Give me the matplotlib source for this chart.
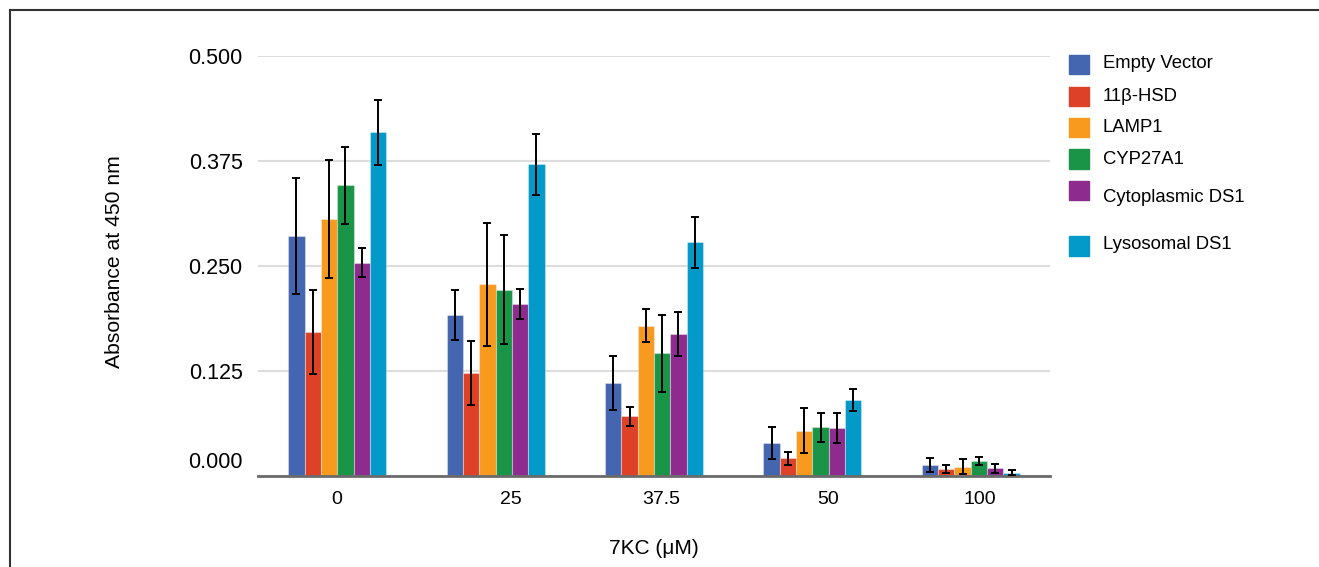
import matplotlib.pyplot as plt
from matplotlib.patches import Rectangle
from matplotlib.lines import Line2D
import numpy as np

plt.rcParams['font.family'] = ['Liberation Sans', 'DejaVu Sans']

# data
doses = ['0', '25', '37.5', '50', '100']
series = ['Empty Vector', '11\u03b2-HSD', 'LAMP1', 'CYP27A1', 'Cytoplasmic DS1', 'Lysosomal DS1']
colors = ['#4466b0', '#dd4128', '#f79a1e', '#1a9447', '#8e2b8e', '#0399c8']

empty_vector = [0.286, 0.192, 0.111, 0.039, 0.013]
hsd11b = [0.171, 0.123, 0.071, 0.021, 0.008]
lamp1 = [0.306, 0.228, 0.179, 0.054, 0.011]
cyp27a1 = [0.346, 0.222, 0.146, 0.058, 0.018]
cyto_ds1 = [0.254, 0.205, 0.169, 0.057, 0.009]
lyso_ds1 = [0.409, 0.371, 0.278, 0.090, 0.004]

empty_vector_err = [0.069, 0.030, 0.032, 0.019, 0.008]
hsd11b_err = [0.050, 0.038, 0.011, 0.008, 0.005]
lamp1_err = [0.070, 0.073, 0.020, 0.027, 0.009]
cyp27a1_err = [0.046, 0.065, 0.046, 0.017, 0.005]
cyto_ds1_err = [0.017, 0.018, 0.026, 0.018, 0.005]
lyso_ds1_err = [0.039, 0.036, 0.030, 0.013, 0.003]

values = [empty_vector, hsd11b, lamp1, cyp27a1, cyto_ds1, lyso_ds1]
errors = [empty_vector_err, hsd11b_err, lamp1_err, cyp27a1_err, cyto_ds1_err, lyso_ds1_err]
yticks = [0.0, 0.125, 0.25, 0.375, 0.5]

W, H = 1319, 567
fig = plt.figure(figsize=(W / 100, H / 100), dpi=100)
ax = fig.add_axes([258 / W, 1 - 476 / H, 792 / W, 420 / H])

x = np.arange(len(doses))
bw = 0.103
for i, (vals, errs) in enumerate(zip(values, errors)):
    pos = x + (i - 2.5) * bw
    ax.bar(pos, vals, width=bw, color=colors[i], edgecolor=(1, 1, 1, 0.35), linewidth=0.8, zorder=2)
    ax.errorbar(pos, vals, yerr=errs, fmt='none', ecolor='black', elinewidth=1.4,
                capsize=3.2, capthick=1.4, zorder=3)

ax.set_xlim(-0.5, 4.5)
ax.set_ylim(0, 0.5)
ax.set_xticks(x)
ax.set_xticklabels([])
# category labels are not quite centred under the groups in the original
label_shift = [-1, 15, 7, 16, 9]
for xi, lab, dx in zip(x, doses, label_shift):
    ax.annotate(lab, xy=(xi, 0), xycoords=('data', 'axes fraction'), xytext=(dx * 0.72, -24 * 0.72),
                textcoords='offset points', ha='center', va='center', fontsize=14)
ax.set_yticks(yticks)
ax.set_yticklabels(['%.3f' % v if v > 0 else '' for v in yticks], fontsize=15.5)
# the zero label sits a bit above the baseline in the original
ax.annotate('0.000', xy=(0, 0), xycoords=('axes fraction', 'data'), xytext=(-11, 10),
            textcoords='offset points', ha='right', va='center', fontsize=15.5)
ax.tick_params(length=0)
ax.tick_params(axis='y', pad=11)
ax.grid(axis='y', color='#dddddd', linewidth=1.5, zorder=0)
ax.set_axisbelow(True)
for s in ['top', 'right', 'left']:
    ax.spines[s].set_visible(False)
ax.spines['bottom'].set_color('#6b6b6b')
ax.spines['bottom'].set_linewidth(2)

ax.set_ylabel('Absorbance at 450 nm', fontsize=15.2)
ax.yaxis.set_label_coords(-134 / 792, 0.5 + 4.5 / 420)
ax.set_xlabel('7KC (\u03bcM)', fontsize=15)
ax.xaxis.set_label_coords(0.5, -63 / 420)

# legend drawn by hand to keep the uneven spacing
sq_y = [64, 96, 127.5, 159, 190.5, 246]
txt_y = [64, 97, 128, 160, 198, 245]
for i, name in enumerate(series):
    fig.add_artist(Rectangle((1069 / W, 1 - (sq_y[i] + 9.5) / H), 20 / W, 19 / H,
                             transform=fig.transFigure, color=colors[i]))
    fig.text(1103 / W, 1 - txt_y[i] / H, name, fontsize=13.3, va='center', ha='left')

# frame lines at top and left
fig.add_artist(Line2D([10 / W, 1], [1 - 10 / H, 1 - 10 / H], color='#333333', linewidth=1.5))
fig.add_artist(Line2D([10 / W, 10 / W], [0, 1 - 10 / H], color='#333333', linewidth=1.5))

fig.savefig('out.png', dpi=100)
